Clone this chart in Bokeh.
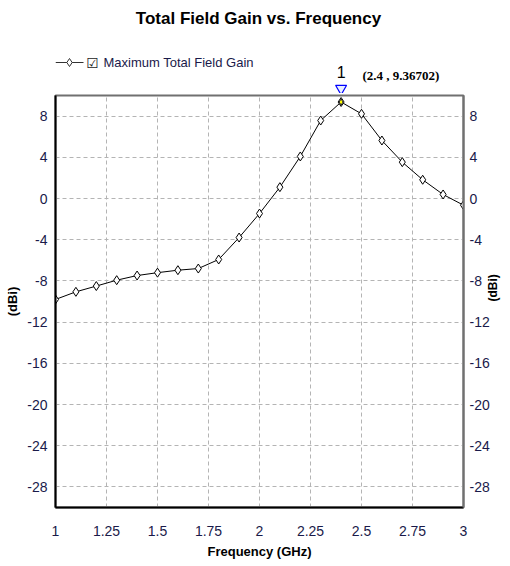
import math
from bokeh.plotting import figure
from bokeh.models import Range1d, LinearAxis, FixedTicker
from bokeh.layouts import column
from bokeh.core.properties import value
from bokeh.embed import file_html
from bokeh.resources import INLINE

# ---- data ----
freq = [1.0, 1.1, 1.2, 1.3, 1.4, 1.5, 1.6, 1.7, 1.8, 1.9, 2.0,
        2.1, 2.2, 2.3, 2.4, 2.5, 2.6, 2.7, 2.8, 2.9, 3.0]
gain = [-9.8, -9.06, -8.5, -7.93, -7.48, -7.2, -6.96, -6.8, -5.92, -3.79, -1.46,
        1.1, 4.08, 7.57, 9.36702, 8.22, 5.63, 3.53, 1.82, 0.39, -0.65]
x_ticks = [1, 1.25, 1.5, 1.75, 2, 2.25, 2.5, 2.75, 3]
x_tick_labels = ["1", "1.25", "1.5", "1.75", "2", "2.25", "2.5", "2.75", "3"]
y_ticks = [-28, -24, -20, -16, -12, -8, -4, 0, 4, 8]
y_tick_labels = ["-28", "-24", "-20", "-16", "-12", "-8", "-4", "0", "4", "8"]
peak_x = 2.4
peak_y = 9.36702

title = "Total Field Gain vs. Frequency"
series_name = "Maximum Total Field Gain"
x_label = "Frequency (GHz)"
y_label = "(dBi)"
marker_name = "1"

# ---- layout constants ----
W = 510
HT = 93            # height of the header strip (title, legend, marker text)
HM = 566 - HT      # height of the main chart
L, R, T, B = 55, 47, 2, 59
X0, X1 = 1, 3
Y0, Y1 = -30, 10
FONT = "Liberation Sans"
TICK_COLOR = "#1a1a4a"
fw = W - L - R


def dx(px):
    """reference pixel x -> data x (header strip shares the x scale)"""
    return X0 + (px - L) * (X1 - X0) / fw


x_range = Range1d(X0, X1)

# ---------------- header strip ----------------
h = figure(width=W, height=HT, output_backend="svg", toolbar_location=None,
           x_range=x_range, y_range=Range1d(HT, 0),
           min_border_left=L, min_border_right=R, min_border_top=0, min_border_bottom=0,
           x_axis_location=None, y_axis_location=None,
           background_fill_color="white", border_fill_color="white")
h.outline_line_color = None
h.xgrid.visible = False
h.ygrid.visible = False

h.text(x=[dx(258)], y=[18], text=[title], text_font=value(FONT), text_font_style="bold",
       text_font_size="17px", text_color="black", text_align="center",
       text_baseline="middle")
# legend entry
h.line(x=[dx(55), dx(83)], y=[62, 62], line_color="#333333", line_width=1.2)
h.scatter(x=[dx(69)], y=[62], marker="diamond", size=8, fill_color="white",
          line_color="#333333", line_width=1)
h.text(x=[dx(92)], y=[62], text=["\u2611"], text_font=value("DejaVu Sans"),
       text_font_size="14px", text_color="#222222", text_align="center",
       text_baseline="middle")
h.text(x=[dx(103)], y=[62], text=[series_name], text_font=value(FONT),
       text_font_size="13px", text_color="#1a1a4a", text_align="left",
       text_baseline="middle")
# marker annotation
h.text(x=[peak_x], y=[71], text=[marker_name], text_font=value(FONT),
       text_font_size="16px", text_color="black", text_align="center",
       text_baseline="middle")
h.text(x=[dx(362)], y=[75], text=["(%g , %g)" % (peak_x, peak_y)],
       text_font=value("Liberation Serif"), text_font_style="bold",
       text_font_size="13px", text_color="black", text_align="left",
       text_baseline="middle")
h.scatter(x=[peak_x], y=[88], marker="inverted_triangle", size=11,
          fill_color="#e8f0ff", line_color="blue", line_width=1.2)

# ---------------- main chart ----------------
p = figure(width=W, height=HM, output_backend="svg", toolbar_location=None,
           x_range=x_range, y_range=Range1d(Y0, Y1),
           min_border_left=L, min_border_right=R, min_border_top=T,
           min_border_bottom=B,
           background_fill_color="white", border_fill_color="white")

p.outline_line_color = "#707070"
p.outline_line_width = 2

p.xgrid.ticker = FixedTicker(ticks=x_ticks)
p.ygrid.ticker = FixedTicker(ticks=y_ticks)
for g in (p.xgrid, p.ygrid):
    g.grid_line_color = "#b4b4b4"
    g.grid_line_dash = "4 3"
    g.grid_line_width = 1

p.xaxis.ticker = FixedTicker(ticks=x_ticks)
p.xaxis.major_label_overrides = {t: s for t, s in zip(x_ticks, x_tick_labels)}
p.yaxis.ticker = FixedTicker(ticks=y_ticks)

right_axis = LinearAxis(ticker=FixedTicker(ticks=y_ticks))
p.add_layout(right_axis, "right")

for ax in (p.xaxis[0], p.yaxis[0], right_axis):
    ax.major_tick_line_color = None
    ax.minor_tick_line_color = None
    ax.major_tick_out = 0
    ax.major_tick_in = 0
    ax.major_label_text_font = FONT
    ax.major_label_text_font_size = "14px"
    ax.major_label_text_color = TICK_COLOR
    ax.axis_line_width = 2
    ax.axis_label_text_font = FONT
    ax.axis_label_text_font_style = "bold"
    ax.axis_label_text_font_size = "13px"
    ax.axis_label_text_color = "black"

for ax in (p.yaxis[0], right_axis):
    ax.major_label_overrides = {t: s for t, s in zip(y_ticks, y_tick_labels)}

p.xaxis[0].axis_line_color = "black"
p.yaxis[0].axis_line_color = "black"
right_axis.axis_line_color = "#707070"
p.xaxis[0].major_label_standoff = 18
p.yaxis[0].major_label_standoff = 8
right_axis.major_label_standoff = 6
right_axis.axis_label_text_font_size = "12px"

p.xaxis[0].axis_label = x_label
p.xaxis[0].axis_label_standoff = 5
p.yaxis[0].axis_label = y_label
p.yaxis[0].axis_label_standoff = 4
right_axis.axis_label = y_label
right_axis.axis_label_standoff = 0
right_axis.axis_label_orientation = math.pi / 2

p.line(freq, gain, line_color="black", line_width=1)
p.scatter(freq, gain, marker="diamond", size=9, fill_color="white",
          line_color="black", line_width=1)
p.scatter([peak_x], [peak_y], marker="diamond", size=6, fill_color="yellow",
          line_color="#222222", line_width=1)

layout = column(h, p, spacing=0)
open("out.html", "w").write(file_html(layout, INLINE))
